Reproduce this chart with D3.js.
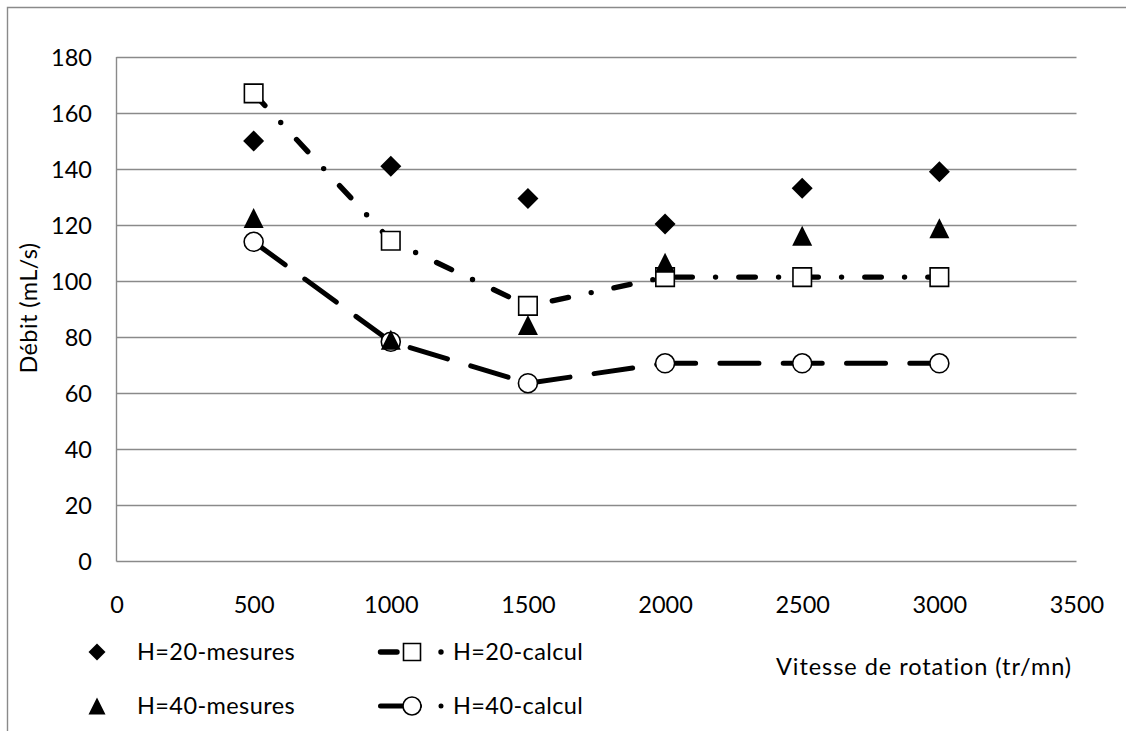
<!DOCTYPE html>
<html>
<head>
<meta charset="utf-8">
<script src="https://cdn.jsdelivr.net/npm/d3@7"></script>
<style>
  html, body { margin: 0; padding: 0; background: #fff; }
  svg { display: block; font-family: Lato, "Open Sans", sans-serif; }
</style>
</head>
<body>
<svg id="chart" width="1126" height="731"></svg>
<script>
// Rotation speed (tr/mn) at which flow was measured and computed
const vitesses = [500, 1000, 1500, 2000, 2500, 3000];
// Flow rate (mL/s)
const h20Mesures = [150, 141, 129.5, 120.4, 133.1, 139];
const h20Calcul  = [167, 114.4, 91.1, 101.4, 101.4, 101.4];
const h40Mesures = [122.5, 79, 84.3, 106.5, 116.2, 118.8];
const h40Calcul  = [114, 78.3, 63.5, 70.6, 70.6, 70.6];

const xTicks = [0, 500, 1000, 1500, 2000, 2500, 3000, 3500];
const yTicks = [0, 20, 40, 60, 80, 100, 120, 140, 160, 180];

const svg = d3.select("#chart");
const FONT = 23.5;
const GRID = "#8a8a8a";

const x = d3.scaleLinear().domain([0, 3500]).range([116.5, 1076.5]);
const y = d3.scaleLinear().domain([0, 180]).range([561, 57]);

// Outer chart frame
svg.append("path")
  .attr("d", "M7.5,740 V7.5 H1140")
  .attr("fill", "none").attr("stroke", "#8a8a8a").attr("stroke-width", 1.4);

// Horizontal gridlines (the 0 line doubles as the x axis)
svg.append("g").selectAll("line").data(yTicks).join("line")
  .attr("x1", x(0)).attr("x2", x(3500))
  .attr("y1", d => Math.round(y(d)) + 0.5).attr("y2", d => Math.round(y(d)) + 0.5)
  .attr("stroke", GRID).attr("stroke-width", 1.4);

// Vertical axis line
svg.append("line")
  .attr("x1", x(0)).attr("x2", x(0)).attr("y1", y(180)).attr("y2", y(0) + 0.5)
  .attr("stroke", GRID).attr("stroke-width", 1.4);

// Tick labels via d3 axis generators (axis lines replaced by the gridlines)
const yAxis = svg.append("g").attr("transform", "translate(92,0)")
  .call(d3.axisLeft(y).tickValues(yTicks).tickSize(0).tickPadding(0));
yAxis.select(".domain").remove();
yAxis.selectAll("text")
  .attr("font-size", FONT).attr("font-family", "Lato").attr("fill", "#000")
  .attr("dy", "0.36em").attr("x", 0).attr("text-anchor", "end");

const xAxis = svg.append("g").attr("transform", "translate(0,605)")
  .call(d3.axisBottom(x).tickValues(xTicks).tickFormat(d3.format("d")).tickSize(0).tickPadding(0));
xAxis.select(".domain").remove();
xAxis.selectAll("text")
  .attr("font-size", FONT).attr("font-family", "Lato").attr("fill", "#000")
  .attr("y", 0).attr("dy", "0.36em");

// Axis titles
svg.append("text")
  .attr("transform", "translate(37,308) rotate(-90)")
  .attr("text-anchor", "middle").attr("font-size", FONT).attr("fill", "#000")
  .attr("letter-spacing", 0.4)
  .text("Débit (mL/s)");
svg.append("text")
  .attr("x", 776).attr("y", 675)
  .attr("font-size", FONT).attr("fill", "#000")
  .attr("letter-spacing", 0.95)
  .text("Vitesse de rotation (tr/mn)");

// Line styles of the computed series
const DASHDOT = "16.5,23.25,0,23.25";
const LONGDASH = "39,24.3";
const LW = 5;

const pts = arr => vitesses.map((v, i) => [x(v), y(arr[i])]);
const line = d3.line();

svg.append("path").attr("d", line(pts(h20Calcul)))
  .attr("fill", "none").attr("stroke", "#000").attr("stroke-width", 5.4)
  .attr("stroke-linecap", "round").attr("stroke-linejoin", "round")
  .attr("stroke-dasharray", DASHDOT);
svg.append("path").attr("d", line(pts(h40Calcul)))
  .attr("fill", "none").attr("stroke", "#000").attr("stroke-width", LW)
  .attr("stroke-linecap", "round").attr("stroke-linejoin", "round")
  .attr("stroke-dasharray", LONGDASH);

// Marker shapes
const S = 20;
const sq = s => `M${-s/2},${-s/2}h${s}v${s}h${-s}Z`;
const diamond = s => `M0,${-s/2}L${s/2},0L0,${s/2}L${-s/2},0Z`;
const tri = s => `M0,${-s/2}L${s/2},${s/2}L${-s/2},${s/2}Z`;

function markers(arr, shape, size, fill, stroke) {
  svg.append("g").selectAll("path").data(arr).join("path")
    .attr("transform", (d, i) => `translate(${x(vitesses[i])},${y(d)})`)
    .attr("d", shape === "circle"
      ? d3.arc()({innerRadius: 0, outerRadius: size / 2, startAngle: 0, endAngle: 2 * Math.PI})
      : shape(size))
    .attr("fill", fill)
    .attr("stroke", stroke ? "#000" : "none")
    .attr("stroke-width", stroke ? 1.6 : 0);
}

markers(h20Calcul, sq, S - 1.5, "#fff", true);
markers(h40Calcul, "circle", S - 1, "#fff", true);
markers(h20Mesures, diamond, S + 1, "#000", false);
markers(h40Mesures, tri, S, "#000", false);

// Legend
const legend = svg.append("g").attr("letter-spacing", 0.4);
const row1 = 652, row2 = 706;

legend.append("path").attr("transform", `translate(97,${row1})`).attr("d", diamond(17)).attr("fill", "#000");
legend.append("text").attr("x", 137).attr("y", row1).attr("dy", "0.36em")
  .attr("font-size", FONT).text("H=20-mesures");

legend.append("path").attr("transform", `translate(97,${row2})`).attr("d", tri(17)).attr("fill", "#000");
legend.append("text").attr("x", 137).attr("y", row2).attr("dy", "0.36em")
  .attr("font-size", FONT).text("H=40-mesures");

legend.append("path").attr("d", `M380.5,${row1}H442`)
  .attr("fill", "none").attr("stroke", "#000").attr("stroke-width", 5.4)
  .attr("stroke-linecap", "round").attr("stroke-dasharray", "16.5,44,0,100");
legend.append("path").attr("transform", `translate(412,${row1})`).attr("d", sq(17))
  .attr("fill", "#fff").attr("stroke", "#000").attr("stroke-width", 1.6);
legend.append("text").attr("x", 453).attr("y", row1).attr("dy", "0.36em")
  .attr("font-size", FONT).text("H=20-calcul");

legend.append("path").attr("d", `M380.5,${row2}H442`)
  .attr("fill", "none").attr("stroke", "#000").attr("stroke-width", LW)
  .attr("stroke-linecap", "round").attr("stroke-dasharray", "39,21.5,0,100");
legend.append("circle").attr("cx", 412).attr("cy", row2).attr("r", 9)
  .attr("fill", "#fff").attr("stroke", "#000").attr("stroke-width", 1.6);
legend.append("text").attr("x", 453).attr("y", row2).attr("dy", "0.36em")
  .attr("font-size", FONT).text("H=40-calcul");
</script>
</body>
</html>
